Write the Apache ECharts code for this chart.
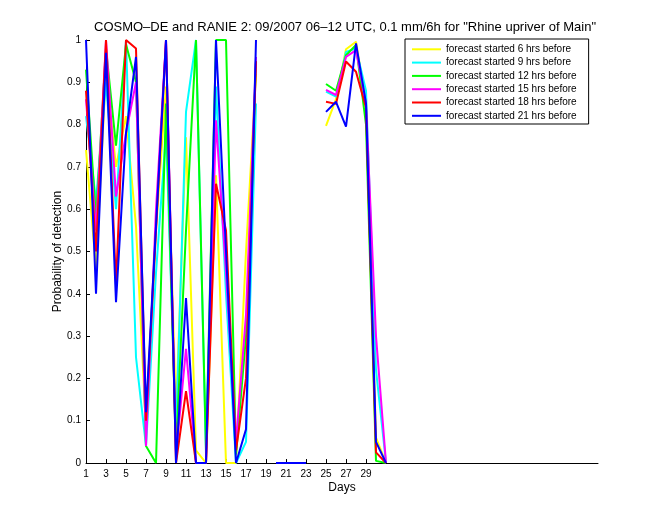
<!DOCTYPE html>
<html><head><meta charset="utf-8">
<script src="https://cdn.jsdelivr.net/npm/echarts@6/dist/echarts.min.js"></script>
<style>html,body{margin:0;padding:0;background:#fff}#c{width:660px;height:520px}</style>
</head><body><div id="c"></div>
<script>
const days = [1,2,3,4,5,6,7,8,9,10,11,12,13,14,15,16,17,18,19,20,21,22,23,24,25,26,27,28,29,30,31];
const xTicks = [1,3,5,7,9,11,13,15,17,19,21,23,25,27,29];
const yTicks = [0,0.1,0.2,0.3,0.4,0.5,0.6,0.7,0.8,0.9,1];
const names = ['forecast started 6 hrs before','forecast started 9 hrs before','forecast started 12 hrs before','forecast started 15 hrs before','forecast started 18 hrs before','forecast started 21 hrs before'];
const colors = ['#ffff00','#00ffff','#00ff00','#ff00ff','#ff0000','#0000ff'];
const s6  = [0.74,0.46,0.93,0.70,0.82,0.56,0.08,0.55,0.89,0.12,0.77,0.03,0.00,0.68,0.00,0.00,0.50,0.92,null,null,null,null,null,null,0.797,0.86,0.978,0.996,0.85,0.06,0];
const s9  = [0.82,0.62,0.90,0.60,1.00,0.25,0.04,0.45,0.78,0.07,0.83,1.00,0.02,0.89,0.40,0.00,0.05,0.85,null,null,null,null,null,null,0.878,0.866,0.972,0.98,0.88,0.22,0];
const s12 = [0.93,0.58,0.98,0.75,0.99,0.90,0.04,0.00,0.85,0.03,0.55,1.00,0.03,1.00,1.00,0.02,0.30,0.95,null,null,null,null,null,null,0.896,0.88,0.964,0.988,0.80,0.005,0];
const s15 = [0.86,0.55,1.00,0.63,0.78,0.90,0.04,0.60,1.00,0.02,0.27,0.00,0.00,0.81,0.45,0.05,0.35,0.96,null,null,null,null,null,null,0.882,0.87,0.96,0.976,0.85,0.30,0];
const s18 = [0.88,0.50,1.00,0.42,1.00,0.98,0.10,0.55,1.00,0.00,0.17,0.00,0.00,0.66,0.55,0.03,0.20,0.95,null,null,null,null,null,null,0.854,0.849,0.949,0.925,0.84,0.025,0];
const s21 = [1.00,0.40,0.97,0.38,0.78,0.96,0.12,0.56,1.00,0.00,0.39,0.00,0.00,1.00,0.50,0.00,0.08,1.00,null,0,0,0,0,null,0.83,0.854,0.795,0.992,0.85,0.05,0];
const allSeries = [s6,s9,s12,s15,s18,s21];

const chart = echarts.init(document.getElementById('c'), null, {renderer:'canvas'});
const font = 'Liberation Sans';
chart.setOption({
  animation:false,
  backgroundColor:'#fff',
  title:{text:'COSMO\u2013DE and RANIE 2: 09/2007 06\u201312 UTC, 0.1 mm/6h for "Rhine upriver of Main"',
    left:340, top:16, textAlign:'center',
    textStyle:{fontFamily:font,fontSize:13,fontWeight:'normal',color:'#000'}},
  legend:{left:405, top:39, orient:'vertical', icon:'rect', itemWidth:29, itemHeight:2, itemGap:1.3,
    padding:[4.3,12,2.2,7], borderColor:'#000', borderWidth:1, backgroundColor:'#fff',
    textStyle:{fontFamily:font,fontSize:10,color:'#000',lineHeight:12},
    data:names},
  grid:{left:86, right:62, top:40, bottom:57, containLabel:false},
  xAxis:{type:'value', min:1, max:52.2, interval:2, name:'Days', nameLocation:'middle', nameGap:19, nameMoveOverlap:false,
    nameTextStyle:{fontFamily:font,fontSize:12,color:'#000'},
    axisLine:{lineStyle:{color:'#000',width:1}},
    axisTick:{inside:true,length:4,customValues:xTicks,lineStyle:{color:'#000'}},
    axisLabel:{customValues:xTicks,fontFamily:font,fontSize:10,color:'#000',margin:6},
    splitLine:{show:false}},
  yAxis:{type:'value', min:0, max:1, interval:0.1, name:'Probability of detection', nameLocation:'middle', nameGap:22, nameMoveOverlap:false,
    nameTextStyle:{fontFamily:font,fontSize:12,color:'#000'},
    axisLine:{show:true,lineStyle:{color:'#000',width:1}},
    axisTick:{show:true,inside:true,length:4,lineStyle:{color:'#000'}},
    axisLabel:{fontFamily:font,fontSize:10,color:'#000',margin:5,
      formatter:v=>String(Math.round(v*10)/10)},
    splitLine:{show:false}},
  series: allSeries.map((arr,i)=>({
    name:names[i], type:'line', showSymbol:false, connectNulls:false,
    lineStyle:{color:colors[i],width:2}, itemStyle:{color:colors[i]},
    data: days.map((d,j)=>[d, arr[j]])
  }))
});
</script></body></html>
